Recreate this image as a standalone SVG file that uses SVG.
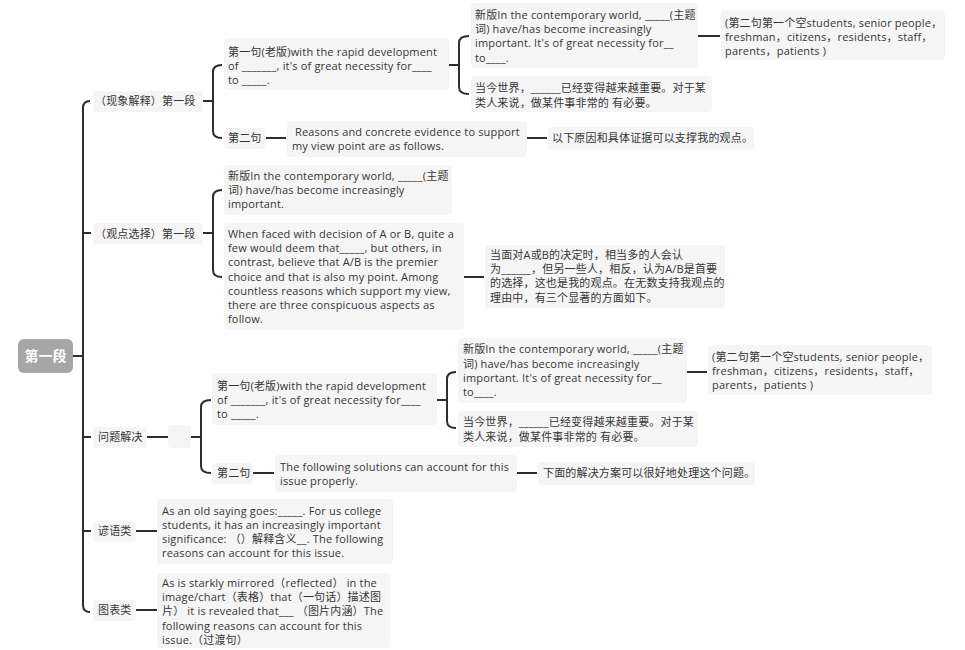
<svg xmlns="http://www.w3.org/2000/svg" width="965" height="650" viewBox="0 0 965 650">
<style>
text{font-family:"Open Sans","Noto Sans CJK SC",sans-serif;font-size:11px;letter-spacing:0.17px;fill:#363636;white-space:pre}
.bg{fill:#f5f5f5}
.root{fill:#a6a6a6}
.rt{font-size:14px;font-weight:bold;fill:#ffffff;text-anchor:middle;letter-spacing:0}
.c{fill:none;stroke:#2e2e2e;stroke-width:2}
</style>
<rect width="965" height="650" fill="#ffffff"/>
<g id="connectors">
<path class="c" d="M73,356H83M90,101Q83,101 83,108L83,605Q83,612 90,612M83,233H91M83,437H91M83,531H91"/>
<path class="c" d="M203,101H213M222,65Q213,65 213,72L213,131Q213,138 222,138"/>
<path class="c" d="M449,65H459M469,36Q459,36 459,43L459,87Q459,94 469,94M698,36H720"/>
<path class="c" d="M266,138H286M527,138H547"/>
<path class="c" d="M203,233H213M222,190Q213,190 213,197L213,270Q213,277 222,277M464,277H484"/>
<path class="c" d="M147,437H168M191,437H201M211,400Q201,400 201,407L201,466Q201,473 211,473"/>
<path class="c" d="M437,400H447M456,372Q447,372 447,379L447,421Q447,428 456,428M687,372H707"/>
<path class="c" d="M253,473H274M517,473H537"/>
<path class="c" d="M136,531H157M136,610H157"/>
</g>
<g id="root"><rect class="root" x="18" y="339" width="55" height="34" rx="6"/><text class="rt" x="45.5" y="361">第一段</text></g>

<g id="n-a"><rect class="bg" x="93" y="91" width="110" height="21" rx="4"/><text x="95" y="105">（现象解释）第一段</text></g>
<g id="n-a1"><rect class="bg" x="224" y="38" width="225" height="52" rx="4"/><text x="228" y="56">第一句(老版)with the rapid development</text><text x="228" y="70">of _______, it's of great necessity for____</text><text x="228" y="84">to _____.</text></g>
<g id="n-a1a"><rect class="bg" x="471" y="3" width="227" height="65" rx="4"/><text x="475" y="19">新版In the contemporary world, _____(主题</text><text x="475" y="33">词) have/has become increasingly</text><text x="475" y="47">important. It's of great necessity for__</text><text x="475" y="62">to____.</text></g>
<g id="n-a1a-x"><rect class="bg" x="721" y="10" width="224" height="50" rx="4"/><text x="725" y="27">(第二句第一个空students, senior people，</text><text x="725" y="41">freshman，citizens，residents，staff，</text><text x="725" y="55">parents，patients )</text></g>
<g id="n-a1b"><rect class="bg" x="471" y="76" width="241" height="36" rx="4"/><text x="475" y="92">当今世界，______已经变得越来越重要。对于某</text><text x="475" y="107">类人来说，做某件事非常的 有必要。</text></g>
<g id="n-a2"><rect class="bg" x="224" y="128" width="41" height="21" rx="4"/><text x="228" y="142">第二句</text></g>
<g id="n-a2a"><rect class="bg" x="287" y="121" width="240" height="36" rx="4"/><text x="292" y="136"> Reasons and concrete evidence to support</text><text x="292" y="150">my view point are as follows.</text></g>
<g id="n-a2b"><rect class="bg" x="548" y="127" width="206" height="23" rx="4"/><text x="552" y="142">以下原因和具体证据可以支撑我的观点。</text></g>

<g id="n-b"><rect class="bg" x="93" y="223" width="110" height="21" rx="4"/><text x="95" y="238">（观点选择）第一段</text></g>
<g id="n-b1"><rect class="bg" x="224" y="165" width="228" height="50" rx="4"/><text x="228" y="180">新版In the contemporary world, _____(主题</text><text x="228" y="194">词) have/has become increasingly</text><text x="228" y="208">important.</text></g>
<g id="n-b2"><rect class="bg" x="224" y="223" width="240" height="107" rx="4"/><text x="228" y="238">When faced with decision of A or B, quite a</text><text x="228" y="252">few would deem that_____, but others, in</text><text x="228" y="266">contrast, believe that A/B is the premier</text><text x="228" y="281">choice and that is also my point. Among</text><text x="228" y="295">countless reasons which support my view,</text><text x="228" y="309">there are three conspicuous aspects as</text><text x="228" y="323">follow.</text></g>
<g id="n-b2a"><rect class="bg" x="485" y="245" width="240" height="63" rx="4"/><text x="490" y="259">当面对A或B的决定时，相当多的人会认</text><text x="490" y="273">为______，但另一些人，相反，认为A/B是首要</text><text x="490" y="287">的选择，这也是我的观点。在无数支持我观点的</text><text x="490" y="302">理由中，有三个显著的方面如下。</text></g>

<g id="n-c"><rect class="bg" x="93" y="427" width="54" height="21" rx="4"/><text x="98" y="441">问题解决</text></g>
<g id="n-c0"><rect class="bg" x="168" y="425" width="23" height="23" rx="4"/></g>
<g id="n-c1"><rect class="bg" x="212" y="373" width="225" height="52" rx="4"/><text x="217" y="390">第一句(老版)with the rapid development</text><text x="217" y="404">of _______, it's of great necessity for____</text><text x="217" y="418">to _____.</text></g>
<g id="n-c1a"><rect class="bg" x="458" y="338" width="229" height="65" rx="4"/><text x="463" y="353">新版In the contemporary world, _____(主题</text><text x="463" y="368">词) have/has become increasingly</text><text x="463" y="382">important. It's of great necessity for__</text><text x="463" y="396">to____.</text></g>
<g id="n-c1a-x"><rect class="bg" x="708" y="345" width="224" height="50" rx="4"/><text x="712" y="361">(第二句第一个空students, senior people，</text><text x="712" y="375">freshman，citizens，residents，staff，</text><text x="712" y="389">parents，patients )</text></g>
<g id="n-c1b"><rect class="bg" x="458" y="411" width="240" height="36" rx="4"/><text x="463" y="426">当今世界，______已经变得越来越重要。对于某</text><text x="463" y="441">类人来说，做某件事非常的 有必要。</text></g>
<g id="n-c2"><rect class="bg" x="212" y="463" width="41" height="21" rx="4"/><text x="217" y="477">第二句</text></g>
<g id="n-c2a"><rect class="bg" x="275" y="455" width="242" height="37" rx="4"/><text x="280" y="471">The following solutions can account for this</text><text x="280" y="485">issue properly.</text></g>
<g id="n-c2b"><rect class="bg" x="538" y="462" width="217" height="23" rx="4"/><text x="543" y="477">下面的解决方案可以很好地处理这个问题。</text></g>

<g id="n-d"><rect class="bg" x="93" y="521" width="43" height="21" rx="4"/><text x="98" y="535">谚语类</text></g>
<g id="n-d1"><rect class="bg" x="157" y="499" width="236" height="65" rx="4"/><text x="162" y="515">As an old saying goes:_____. For us college</text><text x="162" y="529">students, it has an increasingly important</text><text x="162" y="543">significance: （）解释含义__. The following</text><text x="162" y="557">reasons can account for this issue.</text></g>

<g id="n-e"><rect class="bg" x="93" y="600" width="43" height="21" rx="4"/><text x="98" y="614">图表类</text></g>
<g id="n-e1"><rect class="bg" x="157" y="573" width="233" height="75" rx="4"/><text x="162" y="587">As is starkly mirrored（reflected） in the</text><text x="162" y="601">image/chart（表格）that（一句话）描述图</text><text x="162" y="615">片） it is revealed that___ （图片内涵）The</text><text x="162" y="630">following reasons can account for this</text><text x="162" y="644">issue.（过渡句）</text></g>
</svg>
